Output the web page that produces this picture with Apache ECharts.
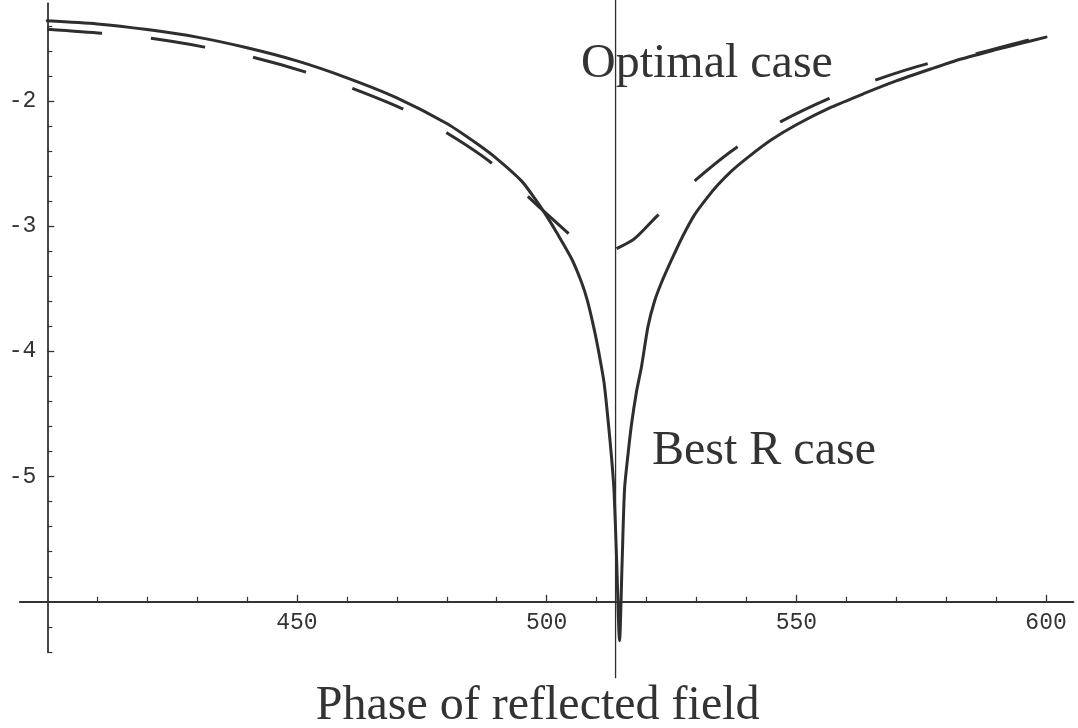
<!DOCTYPE html>
<html>
<head>
<meta charset="utf-8">
<script src="https://cdn.jsdelivr.net/npm/echarts@6.0.0/dist/echarts.min.js"></script>
<style>
html,body{margin:0;padding:0;background:#ffffff;}
#chart{width:1078px;height:728px;}
</style>
</head>
<body>
<div id="chart"></div>
<script>
// ---- data ----
const solidCurve = [
  [400,-1.36],[410,-1.385],[420,-1.43],[430,-1.49],[440,-1.575],[450,-1.68],[460,-1.815],
  [470,-1.975],[480,-2.18],[486,-2.34],[490,-2.46],[495,-2.64],[498,-2.80],[500,-2.92],
  [502,-3.05],[505,-3.26],[507,-3.45],[508.2,-3.60],[509.5,-3.82],[510.5,-4.02],[511.5,-4.25],
  [512.3,-4.55],[513.0,-4.85],[513.5,-5.12],[514.0,-5.65],[514.6,-6.31],[515.1,-5.70],
  [515.6,-5.10],[516.3,-4.82],[517.0,-4.58],[518.0,-4.32],[519.0,-4.12],[520.3,-3.80],
  [521.6,-3.60],[523.0,-3.45],[525.0,-3.27],[527.0,-3.10],[529.6,-2.91],[532.0,-2.78],
  [534.3,-2.67],[537.0,-2.56],[540.3,-2.45],[545,-2.31],[550,-2.19],[557,-2.05],
  [563.6,-1.94],[570,-1.84],[576.9,-1.745],[583,-1.665],[590,-1.59],[595,-1.54],[600,-1.49]
];
const dashedLeft = [
  [400,-1.427],[410.9,-1.459],[420.8,-1.50],[431.5,-1.57],[441.1,-1.65],[451.8,-1.77],
  [461.1,-1.90],[471.5,-2.07],[480.2,-2.26],[489.1,-2.50],[498.3,-2.84],[504.7,-3.07]
];
const dashedRight = [
  [514.0,-3.18],[517.6,-3.10],[522.1,-2.92],[529.6,-2.64],[538.1,-2.37],[546.9,-2.165],
  [556.6,-1.98],[566.1,-1.83],[576.5,-1.70],[586.2,-1.62],[596.8,-1.51],[600,-1.49]
];
const optimalPhase = 513.8;
const optimalLineSpan = [-6.61, -1.19];

const xMajorTicks = [450, 500, 550, 600];
const xMinorTicks = [410,420,430,440,460,470,480,490,510,520,530,540,560,570,580,590];
const yMajorTicks = [-5, -4, -3, -2];
const yMinorTicks = [-6.4,-6.2,-5.8,-5.6,-5.4,-5.2,-4.8,-4.6,-4.4,-4.2,-3.8,-3.6,-3.4,-3.2,
                     -2.8,-2.6,-2.4,-2.2,-1.8,-1.6,-1.4];
const xRange = [394.5, 605.5];
const yRange = [-6.4, -1.22];
const axesCross = [400, -6];   // where the two axes meet (data units)

const xTitle = 'Phase of reflected field';
const labelOptimal = 'Optimal case';
const labelBest = 'Best R case';

// ---- layout ----
const W = 1078, H = 728;
const grid = {left: 19.8, right: 4.5, top: 3.3, bottom: 76.1};
const gridW = W - grid.left - grid.right;
const gridH = H - grid.top - grid.bottom;
const yAxisOffset = -(axesCross[0] - xRange[0]) / (xRange[1] - xRange[0]) * gridW;
const xAxisOffset = -(axesCross[1] - yRange[0]) / (yRange[1] - yRange[0]) * gridH;

const ink = '#2e2e2e';
const axisInk = '#333333';

const chart = echarts.init(document.getElementById('chart'), null, {renderer: 'canvas'});
chart.setOption({
  animation: false,
  backgroundColor: '#ffffff',
  grid: {left: grid.left, right: grid.right, top: grid.top, bottom: grid.bottom,
         containLabel: false, outerBoundsMode: 'none'},
  xAxis: [
    {
      type: 'value', min: xRange[0], max: xRange[1], position: 'bottom', offset: xAxisOffset,
      axisLine: {show: true, onZero: false, lineStyle: {color: axisInk, width: 1.8}},
      axisTick: {show: true, inside: true, length: 7, customValues: xMajorTicks,
                 lineStyle: {color: axisInk, width: 1.3}},
      axisLabel: {show: true, customValues: xMajorTicks, margin: 10, color: axisInk,
                  fontFamily: '"Liberation Mono", monospace', fontSize: 23},
      splitLine: {show: false},
      name: xTitle, nameLocation: 'middle', nameGap: 81,
      nameTextStyle: {fontFamily: '"Liberation Serif", serif', fontSize: 48, color: axisInk,
                      padding: [0, 18, 0, 0]}
    },
    {
      type: 'value', min: xRange[0], max: xRange[1], position: 'bottom', offset: xAxisOffset,
      axisLine: {show: false, onZero: false},
      axisTick: {show: true, inside: true, length: 5, customValues: xMinorTicks,
                 lineStyle: {color: axisInk, width: 1.2}},
      axisLabel: {show: false},
      splitLine: {show: false}
    }
  ],
  yAxis: [
    {
      type: 'value', min: yRange[0], max: yRange[1], position: 'left', offset: yAxisOffset,
      axisLine: {show: true, onZero: false, lineStyle: {color: axisInk, width: 1.8}},
      axisTick: {show: true, inside: true, length: 7, customValues: yMajorTicks,
                 lineStyle: {color: axisInk, width: 1.3}},
      axisLabel: {show: true, customValues: yMajorTicks, margin: 11, color: axisInk,
                  fontFamily: '"Liberation Mono", monospace', fontSize: 23},
      splitLine: {show: false}
    },
    {
      type: 'value', min: yRange[0], max: yRange[1], position: 'left', offset: yAxisOffset,
      axisLine: {show: false, onZero: false},
      axisTick: {show: true, inside: true, length: 5, customValues: yMinorTicks,
                 lineStyle: {color: axisInk, width: 1.2}},
      axisLabel: {show: false},
      splitLine: {show: false}
    }
  ],
  series: [
    {
      name: 'Optimal phase', type: 'line', xAxisIndex: 0, yAxisIndex: 0, clip: false,
      symbol: 'none', silent: true,
      data: optimalLineSpan.map(v => [optimalPhase, v]),
      lineStyle: {color: ink, width: 1.3}
    },
    {
      name: labelBest, type: 'line', xAxisIndex: 0, yAxisIndex: 0, clip: false,
      symbol: 'none', smooth: 0.25, data: solidCurve,
      lineStyle: {color: ink, width: 3, join: 'round', cap: 'round'}
    },
    {
      name: labelOptimal, type: 'line', xAxisIndex: 0, yAxisIndex: 0, clip: false,
      symbol: 'none', smooth: 0.25, data: dashedLeft,
      lineStyle: {color: ink, width: 3, type: [55, 49], cap: 'butt'}
    },
    {
      name: labelOptimal + ' ', type: 'line', xAxisIndex: 0, yAxisIndex: 0, clip: false,
      symbol: 'none', smooth: 0.25, data: dashedRight,
      lineStyle: {color: ink, width: 3, type: [55, 49], cap: 'butt'}
    }
  ],
  graphic: [
    {type: 'text', left: 581, top: 40, z: 10,
     style: {text: labelOptimal, font: '48px "Liberation Serif", serif', fill: axisInk}},
    {type: 'text', left: 652, top: 427, z: 10,
     style: {text: labelBest, font: '48px "Liberation Serif", serif', fill: axisInk}}
  ]
});
</script>
</body>
</html>
